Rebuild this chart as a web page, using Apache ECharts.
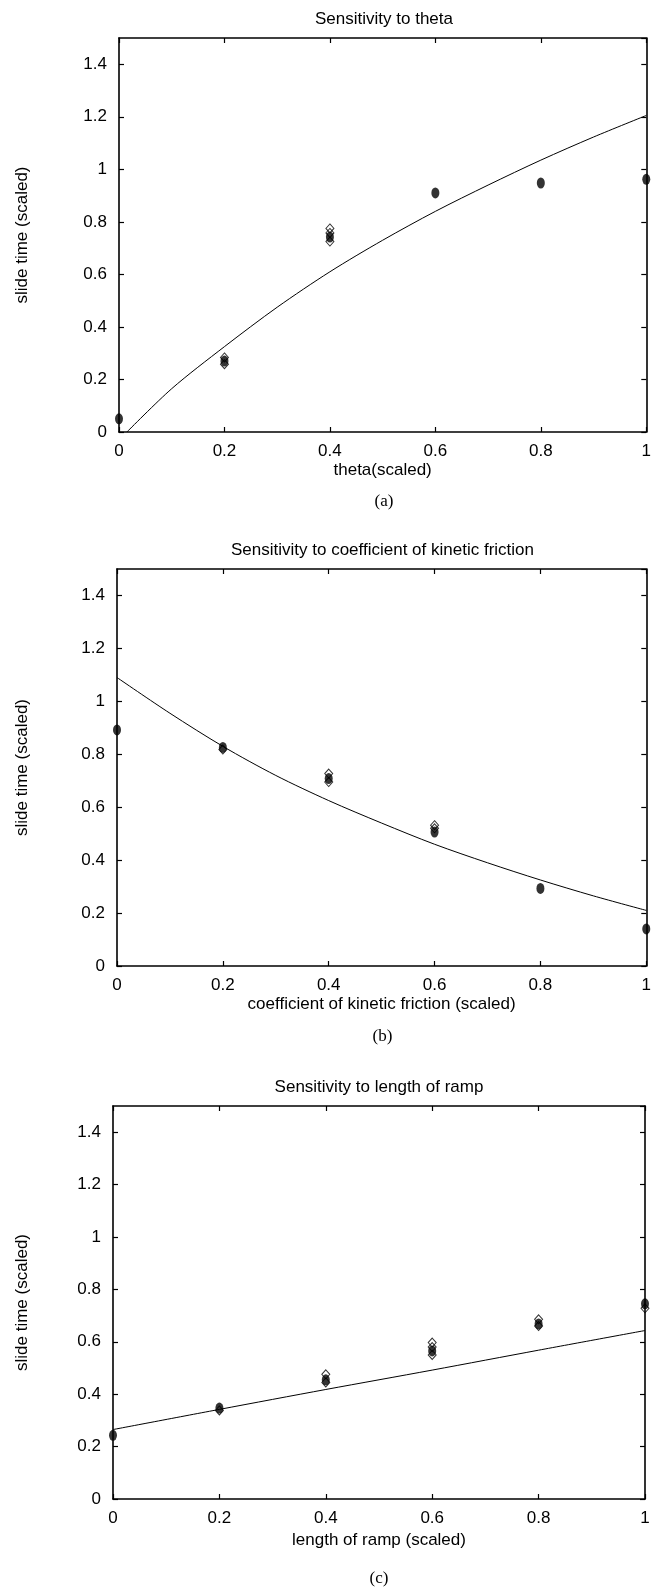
<!DOCTYPE html>
<html>
<head>
<meta charset="utf-8">
<script src="https://cdn.jsdelivr.net/npm/echarts@6/dist/echarts.min.js"></script>
<style>
html,body{margin:0;padding:0;background:#fff;}
#chart{width:654px;height:1587px;}
</style>
</head>
<body>
<div id="chart"></div>
<script>
// ---- data ----
const titles = ["Sensitivity to theta", "Sensitivity to coefficient of kinetic friction", "Sensitivity to length of ramp"];
const xNames = ["theta(scaled)", "coefficient of kinetic friction (scaled)", "length of ramp (scaled)"];
const yName = "slide time (scaled)";
const captions = ["(a)", "(b)", "(c)"];

// fitted curves
const thetaCurve = [[0.015,0],[0.1,0.165],[0.2,0.325],[0.3,0.475],[0.4,0.61],[0.5,0.73],[0.6,0.84],[0.7,0.94],[0.8,1.035],[0.9,1.123],[1,1.205]];
const frictionCurve = [[0,1.09],[0.1,0.955],[0.2,0.83],[0.3,0.72],[0.4,0.625],[0.5,0.54],[0.6,0.46],[0.7,0.39],[0.8,0.325],[0.9,0.265],[1,0.21]];
const rampCurve = [[0,0.265],[0.2,0.342],[0.4,0.418],[0.6,0.492],[0.8,0.568],[1,0.643]];

// observed points: dense clusters (solid) and spread points (hollow diamonds)
const thetaSolid = [[0,0.05],[0.2,0.27],[0.4,0.742],[0.6,0.91],[0.8,0.948],[1,0.962]];
const thetaHollow = [[0.2,0.284],[0.2,0.258],[0.4,0.775],[0.4,0.758],[0.4,0.725]];
const frictionSolid = [[0,0.892],[0.2,0.826],[0.4,0.708],[0.6,0.506],[0.8,0.293],[1,0.14]];
const frictionHollow = [[0.2,0.818],[0.4,0.727],[0.4,0.695],[0.6,0.532],[0.6,0.52]];
const rampSolid = [[0,0.243],[0.2,0.347],[0.4,0.455],[0.6,0.565],[0.8,0.668],[1,0.745]];
const rampHollow = [[0.2,0.338],[0.4,0.476],[0.4,0.445],[0.6,0.597],[0.6,0.58],[0.6,0.55],[0.8,0.686],[0.8,0.66],[1,0.728]];

const curves = [thetaCurve, frictionCurve, rampCurve];
const solids = [thetaSolid, frictionSolid, rampSolid];
const hollows = [thetaHollow, frictionHollow, rampHollow];

// ---- layout ----
const grids = [
  {left:119, top:38, width:530, height:394},
  {left:117, top:569, width:531, height:397},
  {left:113, top:1106, width:532, height:393}
];
const titleY = [19, 550, 1087];
const captionY = [502, 1037, 1579];
const yNameGap = [88, 86, 82];
const xNameGap = [30, 30, 33];
const FONT = "'Liberation Sans', Arial, sans-serif";
const FS = 17;

const option = {
  animation:false,
  backgroundColor:'#fff',
  grid: grids.map(g => Object.assign({containLabel:false}, g)),
  xAxis: [], yAxis: [], series: [], graphic: []
};

function axisCommon(){
  return {
    axisLine:{show:true, onZero:false, lineStyle:{color:'#000', width:1.6}},
    axisTick:{show:true, inside:true, length:5, lineStyle:{color:'#000', width:1.2}},
    splitLine:{show:false}
  };
}

for (let i = 0; i < 3; i++) {
  option.xAxis.push(Object.assign(axisCommon(), {
    type:'value', gridIndex:i, min:0, max:1, interval:0.2, position:'bottom',
    name:xNames[i], nameLocation:'middle', nameGap:xNameGap[i],
    nameTextStyle:{color:'#000', fontSize:FS, fontFamily:FONT},
    axisLabel:{color:'#000', fontSize:FS, fontFamily:FONT, margin:11}
  }));
  option.xAxis.push(Object.assign(axisCommon(), {
    type:'value', gridIndex:i, min:0, max:1, interval:0.2, position:'top',
    axisLabel:{show:false}
  }));
  option.yAxis.push(Object.assign(axisCommon(), {
    type:'value', gridIndex:i, min:0, max:1.5, interval:0.2, position:'left',
    name:yName, nameLocation:'middle', nameGap:yNameGap[i],
    nameTextStyle:{color:'#000', fontSize:FS, fontFamily:FONT},
    axisLabel:{color:'#000', fontSize:FS, fontFamily:FONT, margin:12, showMaxLabel:false}
  }));
  option.yAxis.push(Object.assign(axisCommon(), {
    type:'value', gridIndex:i, min:0, max:1.5, interval:0.2, position:'right',
    axisLabel:{show:false}
  }));

  option.series.push({
    type:'line', xAxisIndex:2*i, yAxisIndex:2*i, data:curves[i], smooth:0.3,
    showSymbol:false, symbol:'none', lineStyle:{color:'#000', width:1}, z:2
  });
  option.series.push({
    type:'scatter', xAxisIndex:2*i, yAxisIndex:2*i, data:hollows[i],
    symbol:'diamond', symbolSize:[8,9],
    itemStyle:{color:'rgba(255,255,255,0)', borderColor:'#000', borderWidth:1}, z:3
  });
  option.series.push({
    type:'scatter', xAxisIndex:2*i, yAxisIndex:2*i, data:solids[i],
    symbol:'circle', symbolSize:[8,11],
    itemStyle:{color:'#000'}, z:4
  });

  const g = grids[i];
  const cx = g.left + g.width/2;
  option.graphic.push({
    type:'text', x:cx, y:titleY[i],
    style:{text:titles[i], fill:'#000', font:FS + "px " + FONT, align:'center', verticalAlign:'middle'}
  });
  option.graphic.push({
    type:'text', x:cx, y:captionY[i],
    style:{text:captions[i], fill:'#000', font:"17px 'Liberation Serif', 'Times New Roman', serif", align:'center', verticalAlign:'middle'}
  });
}

const chart = echarts.init(document.getElementById('chart'), null, {renderer:'canvas'});
chart.setOption(option);
</script>
</body>
</html>
